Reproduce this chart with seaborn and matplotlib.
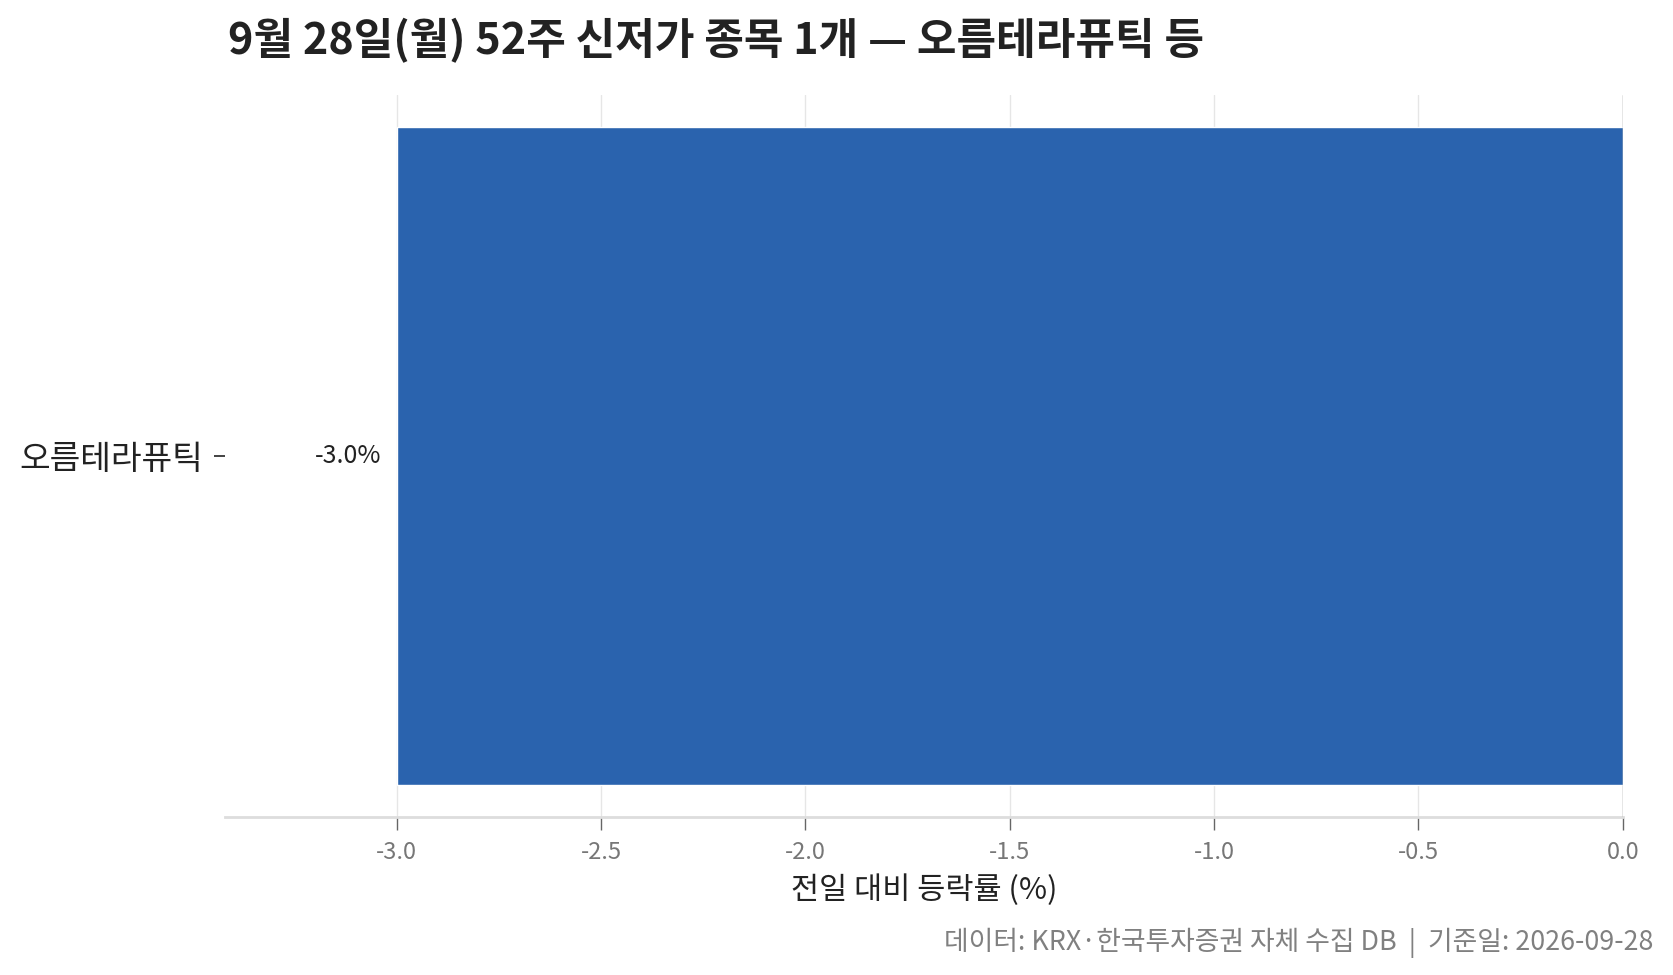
import matplotlib
matplotlib.use("Agg")
import matplotlib.pyplot as plt
import seaborn as sns
import pandas as pd

# data
names = ["오름테라퓨틱"]
changes = [-3.0]
xticks = [-3.0, -2.5, -2.0, -1.5, -1.0, -0.5, 0.0]

title = "9월 28일(월) 52주 신저가 종목 1개 — 오름테라퓨틱 등"
xlabel = "전일 대비 등락률 (%)"
source = "데이터: KRX·한국투자증권 자체 수집 DB  |  기준일: 2026-09-28"

sns.set_theme(style="white")
plt.rcParams["font.family"] = ["Noto Sans CJK KR", "DejaVu Sans"]
plt.rcParams["axes.unicode_minus"] = False

df = pd.DataFrame({"name": names, "change": changes})

fig = plt.figure(figsize=(16.73, 9.75), dpi=100)
ax = fig.add_axes([0.1345, 0.162, 0.8355, 0.741])

sns.barplot(data=df, x="change", y="name", orient="h", color="#2a63ae",
            saturation=1, width=0.91, ax=ax, zorder=2)

# value labels left of each bar
for i, v in enumerate(df["change"]):
    ax.annotate(f"{v:.1f}%", xy=(v, i), xytext=(-11, 0), textcoords="offset points",
                ha="right", va="center", fontsize=18, color="#222222")

ax.set_xlim(min(changes) * 1.14, 0)
ax.set_xticks(xticks)
ax.set_xticklabels([f"{t:.1f}" for t in xticks])
ax.grid(axis="x", color="#e6e6e6", linewidth=1, zorder=0)
ax.set_axisbelow(True)
ax.axvline(0, color="#999999", linewidth=1, zorder=3)

for s in ["top", "right", "left"]:
    ax.spines[s].set_visible(False)
ax.spines["bottom"].set_color("#dddddd")
ax.spines["bottom"].set_linewidth(2)

ax.tick_params(axis="x", colors="#666666", labelsize=17, length=9, width=1, pad=8, bottom=True)
ax.tick_params(axis="y", colors="#222222", labelsize=24, length=8, width=1.2, pad=8, left=True)
ax.tick_params(axis="x", labelcolor="#777777")

ax.set_xlabel(xlabel, fontsize=22, color="#222222", labelpad=8)
ax.set_ylabel("")

fig.text(0.1365, 0.958, title, fontsize=31, fontweight="bold", color="#222222",
         ha="left", va="center")
fig.text(0.988, 0.033, source, fontsize=19.3, color="#808080", ha="right", va="center")

fig.savefig("out.png", dpi=100)
